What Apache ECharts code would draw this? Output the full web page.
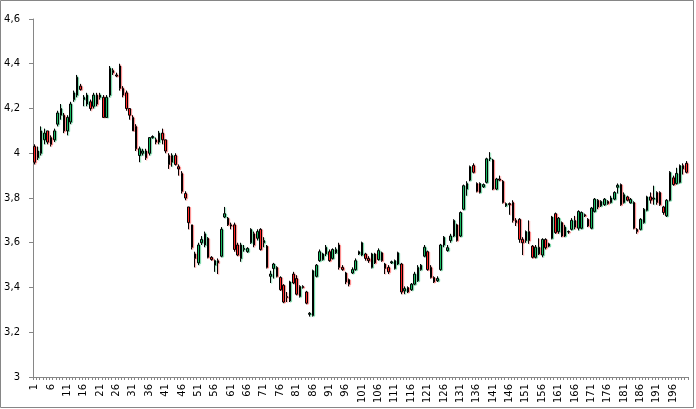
<!DOCTYPE html>
<html>
<head>
<meta charset="utf-8">
<script src="https://cdn.jsdelivr.net/npm/echarts@6/dist/echarts.min.js"></script>
<style>
html,body{margin:0;padding:0;background:#fff;}
#chart{width:696px;height:409px;}
</style>
</head>
<body>
<div id="chart"></div>
<script>
var opens = [4.03,3.98,4.00,4.06,4.10,4.07,4.06,4.13,4.17,4.17,4.10,4.14,4.24,4.26,4.30,4.24,4.22,4.23,4.21,4.26,
4.25,4.25,4.16,4.26,4.37,4.35,4.39,4.29,4.27,4.20,4.16,4.12,3.99,4.00,4.01,4.00,4.07,4.06,4.05,4.09,
4.06,3.99,3.96,3.99,3.94,3.91,3.82,3.76,3.68,3.55,3.51,3.60,3.59,3.62,3.535,3.50,3.52,3.54,3.715,3.71,
3.68,3.68,3.59,3.53,3.57,3.56,3.60,3.64,3.62,3.66,3.60,3.585,3.45,3.485,3.49,3.445,3.41,3.36,3.34,3.46,
3.44,3.36,3.405,3.38,3.28,3.275,3.45,3.52,3.525,3.55,3.56,3.53,3.555,3.59,3.49,3.465,3.435,3.465,3.48,3.55,
3.545,3.55,3.53,3.49,3.55,3.525,3.555,3.505,3.49,3.51,3.485,3.505,3.505,3.385,3.40,3.39,3.415,3.43,3.48,3.54,
3.56,3.49,3.445,3.43,3.48,3.59,3.565,3.61,3.63,3.68,3.63,3.75,3.84,3.88,3.945,3.865,3.825,3.85,3.87,3.975,
3.97,3.84,3.885,3.875,3.765,3.775,3.78,3.70,3.705,3.615,3.61,3.65,3.585,3.535,3.58,3.545,3.615,3.585,3.62,3.73,
3.65,3.69,3.63,3.65,3.66,3.70,3.665,3.665,3.725,3.705,3.665,3.74,3.79,3.765,3.77,3.785,3.78,3.795,3.848,3.86,
3.78,3.805,3.778,3.78,3.66,3.66,3.69,3.745,3.805,3.795,3.825,3.825,3.76,3.72,3.79,3.89,3.865,3.87,3.945,3.955];
var closes = [3.96,4.01,4.10,4.09,4.05,4.04,4.10,4.18,4.20,4.10,4.16,4.22,4.27,4.34,4.285,4.25,4.26,4.20,4.26,4.22,
4.26,4.16,4.25,4.38,4.36,4.345,4.29,4.26,4.20,4.17,4.10,4.02,4.02,4.01,3.98,4.07,4.075,4.05,4.09,4.06,
4.01,3.95,3.99,3.95,3.93,3.83,3.80,3.69,3.58,3.53,3.59,3.615,3.64,3.535,3.525,3.52,3.51,3.66,3.73,3.68,
3.675,3.57,3.545,3.59,3.575,3.575,3.66,3.59,3.65,3.57,3.61,3.49,3.46,3.505,3.45,3.39,3.335,3.355,3.425,3.42,
3.37,3.405,3.40,3.33,3.285,3.475,3.50,3.56,3.55,3.58,3.52,3.57,3.57,3.49,3.48,3.425,3.415,3.48,3.52,3.56,
3.60,3.53,3.52,3.55,3.51,3.565,3.52,3.485,3.47,3.515,3.52,3.555,3.38,3.395,3.38,3.415,3.46,3.49,3.50,3.58,
3.48,3.445,3.425,3.44,3.59,3.625,3.578,3.63,3.70,3.61,3.735,3.855,3.865,3.94,3.915,3.83,3.865,3.86,3.975,3.98,
3.84,3.885,3.88,3.78,3.775,3.77,3.70,3.69,3.615,3.60,3.65,3.61,3.535,3.58,3.55,3.615,3.578,3.595,3.715,3.645,
3.71,3.63,3.67,3.648,3.70,3.67,3.74,3.735,3.72,3.675,3.755,3.795,3.76,3.785,3.795,3.775,3.80,3.825,3.857,3.77,
3.815,3.79,3.794,3.665,3.65,3.705,3.75,3.805,3.79,3.80,3.78,3.77,3.735,3.79,3.915,3.86,3.91,3.945,3.93,3.915];
var highs = [4.04,4.03,4.12,4.11,4.10,4.08,4.11,4.19,4.22,4.18,4.17,4.23,4.28,4.35,4.31,4.26,4.27,4.24,4.27,4.27,
4.27,4.26,4.26,4.39,4.38,4.36,4.40,4.30,4.28,4.20,4.17,4.13,4.03,4.02,4.02,4.07,4.08,4.07,4.10,4.11,
4.06,4.00,4.00,4.00,3.95,3.92,3.83,3.76,3.68,3.56,3.60,3.63,3.65,3.625,3.54,3.525,3.53,3.67,3.76,3.715,
3.69,3.69,3.60,3.60,3.59,3.58,3.665,3.65,3.66,3.665,3.625,3.59,3.475,3.51,3.495,3.45,3.415,3.38,3.43,3.47,
3.455,3.41,3.41,3.385,3.29,3.48,3.505,3.57,3.555,3.59,3.57,3.575,3.58,3.60,3.50,3.47,3.44,3.49,3.53,3.565,
3.605,3.555,3.54,3.555,3.555,3.575,3.56,3.51,3.50,3.52,3.525,3.56,3.51,3.405,3.405,3.42,3.47,3.50,3.505,3.59,
3.565,3.50,3.45,3.45,3.595,3.63,3.59,3.64,3.705,3.685,3.74,3.86,3.875,3.945,3.955,3.87,3.87,3.865,3.98,4.005,
3.975,3.89,3.90,3.88,3.78,3.78,3.79,3.71,3.71,3.625,3.655,3.70,3.59,3.59,3.62,3.62,3.62,3.60,3.72,3.735,
3.715,3.695,3.68,3.655,3.71,3.72,3.745,3.74,3.73,3.71,3.76,3.80,3.795,3.79,3.80,3.79,3.81,3.83,3.865,3.865,
3.825,3.81,3.80,3.785,3.665,3.71,3.755,3.81,3.825,3.855,3.83,3.83,3.765,3.795,3.92,3.90,3.935,3.95,3.955,3.965];
var lows = [3.95,3.97,3.99,4.04,4.04,4.03,4.05,4.12,4.15,4.09,4.08,4.13,4.23,4.25,4.28,4.21,4.21,4.19,4.20,4.21,
4.24,4.16,4.16,4.25,4.35,4.34,4.28,4.25,4.19,4.15,4.10,4.01,3.96,3.99,3.97,3.99,4.065,4.04,4.04,4.04,
4.00,3.93,3.94,3.945,3.90,3.82,3.79,3.66,3.57,3.49,3.50,3.59,3.58,3.53,3.52,3.47,3.46,3.535,3.71,3.675,
3.66,3.56,3.54,3.515,3.56,3.555,3.595,3.58,3.61,3.565,3.58,3.485,3.42,3.44,3.445,3.385,3.33,3.335,3.335,3.415,
3.365,3.355,3.395,3.325,3.27,3.27,3.445,3.515,3.52,3.54,3.515,3.525,3.55,3.48,3.475,3.415,3.405,3.46,3.475,3.545,
3.54,3.52,3.51,3.485,3.505,3.52,3.515,3.46,3.46,3.505,3.48,3.50,3.37,3.37,3.375,3.385,3.41,3.425,3.475,3.535,
3.475,3.44,3.42,3.425,3.475,3.58,3.56,3.60,3.625,3.605,3.625,3.745,3.81,3.875,3.91,3.825,3.82,3.845,3.865,3.965,
3.835,3.835,3.875,3.775,3.76,3.725,3.69,3.675,3.60,3.545,3.60,3.595,3.53,3.53,3.545,3.535,3.57,3.58,3.615,3.64,
3.64,3.625,3.625,3.64,3.655,3.66,3.655,3.66,3.715,3.67,3.66,3.735,3.75,3.76,3.765,3.77,3.775,3.79,3.82,3.765,
3.775,3.785,3.775,3.66,3.64,3.655,3.685,3.74,3.775,3.77,3.77,3.765,3.725,3.715,3.785,3.855,3.86,3.865,3.905,3.91];
var categories = [];
for (var k = 1; k <= opens.length; k++) categories.push(String(k));
var yTicks = [3, 3.2, 3.4, 3.6, 3.8, 4, 4.2, 4.4, 4.6];

var upFill = '#00B050', downFill = '#FF0000';
var data = opens.map(function (o, i) {
  var up = closes[i] >= o;
  return {
    value: [o, closes[i], lows[i], highs[i]],
    itemStyle: {
      shadowColor: up ? 'rgba(60,200,130,0.5)' : 'rgba(255,90,90,0.5)',
      shadowOffsetX: 1.2, shadowOffsetY: 0.6, shadowBlur: 0
    }
  };
});

var chart = echarts.init(document.getElementById('chart'), null, {renderer: 'canvas'});
chart.setOption({
  animation: false,
  backgroundColor: '#ffffff',
  textStyle: {fontFamily: 'DejaVu Sans'},
  grid: {left: 33, right: 8, top: 19, bottom: 32},
  graphic: [{
    type: 'rect', silent: true, z: -1,
    shape: {x: 0.5, y: 0.5, width: 693, height: 407},
    style: {fill: 'none', stroke: '#868686', lineWidth: 1}
  }],
  xAxis: {
    type: 'category',
    data: categories,
    boundaryGap: true,
    axisLine: {lineStyle: {color: '#868686', width: 1}},
    axisTick: {show: true, interval: 0, length: 3, lineStyle: {color: '#868686'}},
    axisLabel: {interval: 4, rotate: 90, margin: 7, color: '#000', fontSize: 10, fontFamily: 'DejaVu Sans'},
    splitLine: {show: false}
  },
  yAxis: {
    type: 'value',
    min: yTicks[0], max: yTicks[yTicks.length - 1], interval: 0.2,
    axisLine: {show: true, lineStyle: {color: '#868686', width: 1}},
    axisTick: {show: true, length: 4, lineStyle: {color: '#868686'}},
    axisLabel: {
      margin: 13, color: '#000', fontSize: 10, fontFamily: 'DejaVu Sans',
      formatter: function (v) { return String(+v.toFixed(1)).replace('.', ','); }
    },
    splitLine: {show: false}
  },
  series: [{
    type: 'candlestick',
    data: data,
    barWidth: 2,
    itemStyle: {
      color: upFill, color0: downFill,
      borderColor: '#000', borderColor0: '#000', borderWidth: 1
    }
  }]
});
</script>
</body>
</html>
